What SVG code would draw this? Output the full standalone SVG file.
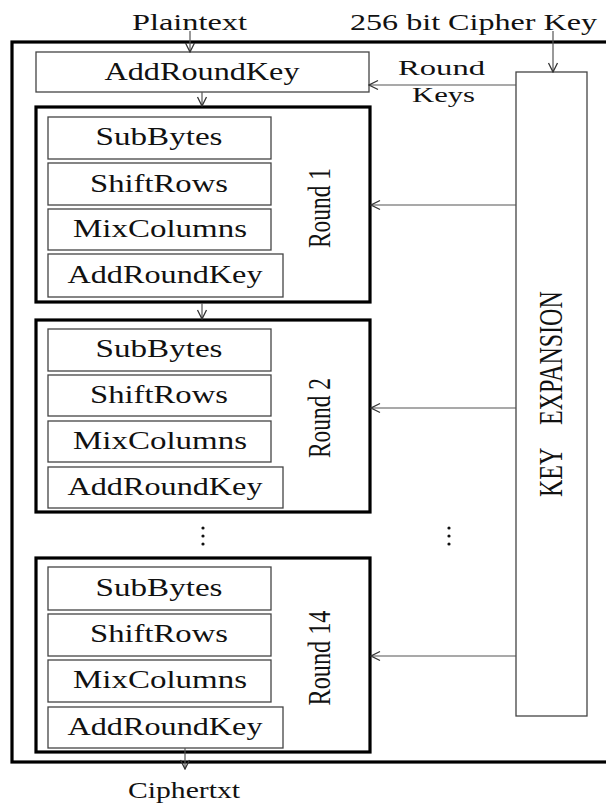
<svg xmlns="http://www.w3.org/2000/svg" width="606" height="803" viewBox="0 0 606 803">
<style>
text{font-family:"Liberation Serif","Times New Roman",serif;fill:#111}
.lbl{font-size:25px;text-anchor:middle}
.io{font-size:24px;text-anchor:middle}
.rk{font-size:20px;text-anchor:middle}
.rnd{font-size:23px;text-anchor:middle}
.thin{fill:#fff;stroke:#444;stroke-width:1.3}
.thick{fill:#fff;stroke:#000;stroke-width:3.2}
.con{stroke:#555;stroke-width:1.2;fill:none}
.dot{fill:#111}
</style>
<defs>
<marker id="ah" markerUnits="userSpaceOnUse" markerWidth="12" markerHeight="12" viewBox="0 0 12 12" refX="11" refY="6" orient="auto">
<path d="M2,1.5 L11,6 L2,10.5" fill="none" stroke="#333" stroke-width="1.3"/>
</marker>
</defs>
<rect width="606" height="803" fill="#fff"/>
<g id="outer">
<rect x="12" y="42" width="600" height="720" fill="none" stroke="#000" stroke-width="3.2"/>
</g>
<g id="plaintext"><text class="io" x="189.5" y="30" textLength="115" lengthAdjust="spacingAndGlyphs">Plaintext</text></g>
<g id="cipherkey"><text class="io" x="473.5" y="30" textLength="247" lengthAdjust="spacingAndGlyphs">256 bit Cipher Key</text></g>
<g id="roundkeys-label">
<text class="rk" x="441.5" y="75" textLength="87" lengthAdjust="spacingAndGlyphs">Round</text>
<text class="rk" x="443.5" y="102" textLength="63" lengthAdjust="spacingAndGlyphs">Keys</text>
</g>
<g id="addroundkey0">
<rect class="thin" x="36" y="52" width="333" height="40"/>
<text class="lbl" x="202" y="80" textLength="195" lengthAdjust="spacingAndGlyphs">AddRoundKey</text>
</g>
<g id="round1">
<rect class="thick" x="36" y="107" width="334" height="195"/>
<rect class="thin" x="48" y="117" width="223" height="42"/>
<text class="lbl" x="159" y="145" textLength="127" lengthAdjust="spacingAndGlyphs">SubBytes</text>
<rect class="thin" x="48" y="163" width="223" height="42"/>
<text class="lbl" x="159" y="192" textLength="138" lengthAdjust="spacingAndGlyphs">ShiftRows</text>
<rect class="thin" x="48" y="209" width="223" height="41"/>
<text class="lbl" x="160" y="237" textLength="174" lengthAdjust="spacingAndGlyphs">MixColumns</text>
<rect class="thin" x="48" y="254" width="235" height="43"/>
<text class="lbl" x="165" y="283" textLength="195" lengthAdjust="spacingAndGlyphs">AddRoundKey</text>
<text class="rnd" transform="translate(330,208) rotate(-90) scale(1,1.4)" textLength="80" lengthAdjust="spacingAndGlyphs">Round 1</text>
</g>
<g id="round2">
<rect class="thick" x="36" y="320" width="334" height="192"/>
<rect class="thin" x="48" y="329" width="223" height="42"/>
<text class="lbl" x="159" y="357" textLength="127" lengthAdjust="spacingAndGlyphs">SubBytes</text>
<rect class="thin" x="48" y="375" width="223" height="41"/>
<text class="lbl" x="159" y="403" textLength="138" lengthAdjust="spacingAndGlyphs">ShiftRows</text>
<rect class="thin" x="48" y="421" width="223" height="41"/>
<text class="lbl" x="160" y="449" textLength="174" lengthAdjust="spacingAndGlyphs">MixColumns</text>
<rect class="thin" x="48" y="467" width="235" height="41"/>
<text class="lbl" x="165" y="495" textLength="195" lengthAdjust="spacingAndGlyphs">AddRoundKey</text>
<text class="rnd" transform="translate(330,418) rotate(-90) scale(1,1.4)" textLength="80" lengthAdjust="spacingAndGlyphs">Round 2</text>
</g>
<g id="round14">
<rect class="thick" x="36" y="558" width="334" height="194"/>
<rect class="thin" x="48" y="567" width="223" height="43"/>
<text class="lbl" x="159" y="596" textLength="127" lengthAdjust="spacingAndGlyphs">SubBytes</text>
<rect class="thin" x="48" y="614" width="223" height="42"/>
<text class="lbl" x="159" y="642" textLength="138" lengthAdjust="spacingAndGlyphs">ShiftRows</text>
<rect class="thin" x="48" y="660" width="223" height="42"/>
<text class="lbl" x="160" y="688" textLength="174" lengthAdjust="spacingAndGlyphs">MixColumns</text>
<rect class="thin" x="48" y="707" width="235" height="41"/>
<text class="lbl" x="165" y="735" textLength="195" lengthAdjust="spacingAndGlyphs">AddRoundKey</text>
<text class="rnd" transform="translate(330,658) rotate(-90) scale(1,1.4)" textLength="95" lengthAdjust="spacingAndGlyphs">Round 14</text>
</g>
<g id="keyexpansion">
<rect class="thin" x="516" y="72" width="71" height="644"/>
<text style="font-size:24px" transform="translate(562,0) rotate(-90) scale(1,1.38)"><tspan x="-497">KEY</tspan><tspan x="-425">EXPANSION</tspan></text>
</g>
<g id="ellipsis">
<circle class="dot" cx="203" cy="528" r="1.6"/><circle class="dot" cx="203" cy="536" r="1.6"/><circle class="dot" cx="203" cy="544" r="1.6"/>
<circle class="dot" cx="449" cy="528" r="1.6"/><circle class="dot" cx="449" cy="536" r="1.6"/><circle class="dot" cx="449" cy="544" r="1.6"/>
</g>
<g id="ciphertext"><text class="io" x="184" y="798" textLength="112" lengthAdjust="spacingAndGlyphs">Ciphertxt</text></g>
<g id="connectors">
<line class="con" x1="190" y1="31" x2="190" y2="52" marker-end="url(#ah)"/>
<line class="con" x1="553" y1="31" x2="553" y2="72" marker-end="url(#ah)"/>
<line class="con" x1="516" y1="85" x2="369" y2="85" marker-end="url(#ah)"/>
<line class="con" x1="202" y1="92" x2="202" y2="106" marker-end="url(#ah)"/>
<line class="con" x1="202" y1="303" x2="202" y2="319" marker-end="url(#ah)"/>
<line class="con" x1="516" y1="205" x2="371" y2="205" marker-end="url(#ah)"/>
<line class="con" x1="516" y1="408" x2="371" y2="408" marker-end="url(#ah)"/>
<line class="con" x1="516" y1="656" x2="371" y2="656" marker-end="url(#ah)"/>
<line class="con" x1="185" y1="748" x2="185" y2="769" marker-end="url(#ah)"/>
</g>
</svg>
